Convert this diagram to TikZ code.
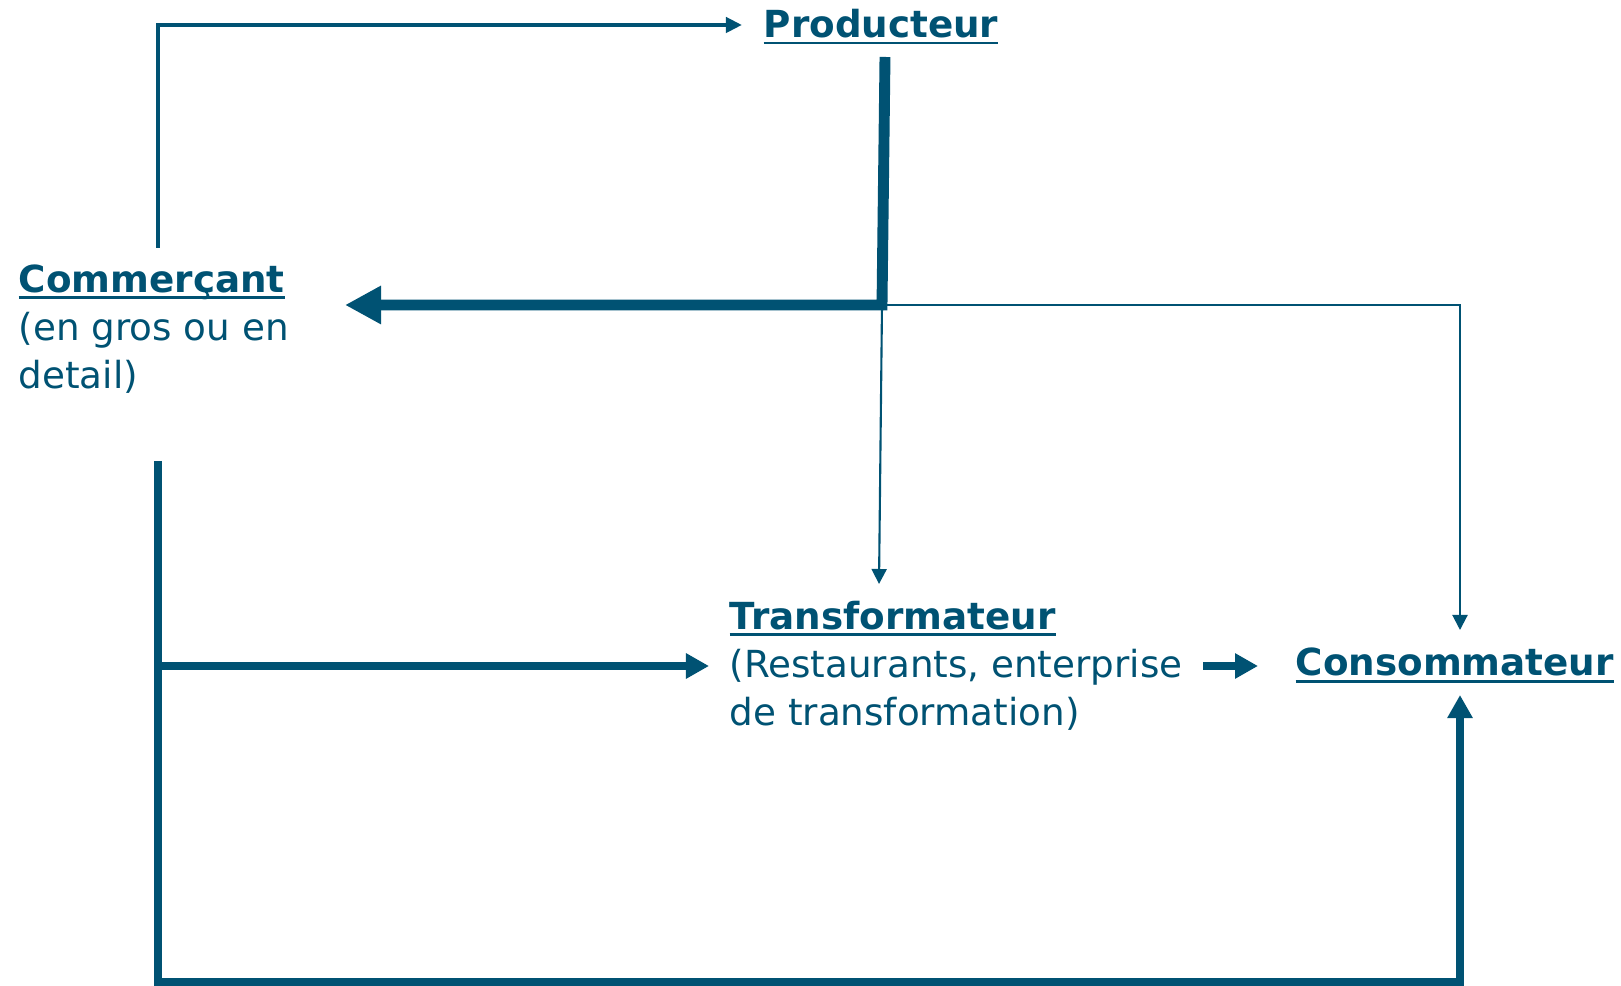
\documentclass[tikz,border=0pt]{standalone}
\usepackage{fontspec}
\setmainfont{DejaVu Sans}
\usepackage{tikz}
\usetikzlibrary{arrows.meta}
\definecolor{flow}{RGB}{0,82,115}
\newcommand{\ulbold}[1]{\setbox0\hbox{\bfseries #1}\rlap{\rule[-1.85pt]{\wd0}{0.85pt}}\box0}

\begin{document}
\begin{tikzpicture}[x=0.01cm,y=-0.01cm,line join=miter]
                \tikzstyle{actor}=[anchor=base west,inner sep=0pt,align=left,text=flow,font=\fontsize{10.6pt}{13.7pt}\selectfont]
                \tikzstyle{fine}=[draw=flow,line width=0.6pt,-{Triangle[length=0.15cm,width=0.15cm]}]
                \tikzstyle{medium}=[draw=flow,line width=1.3pt,-{Triangle[length=0.16cm,width=0.15cm]}]
                \tikzstyle{heavy}=[draw=flow,line width=2.1pt,-{Triangle[length=0.23cm,width=0.24cm]}]
                \tikzstyle{main}=[draw=flow,line width=3.1pt,-{Triangle[length=0.36cm,width=0.36cm]}]
                \useasboundingbox (0,0) rectangle (1621,986);

                % base of a multi-line node is its last line
                \node[actor] (prod) at (763,38) {\ulbold{Producteur}};
                \node[actor] (comm) at (18,389) {\ulbold{Commerçant}\\(en gros ou en\\detail)};
                \node[actor] (trans) at (729,726) {\ulbold{Transformateur}\\(Restaurants, enterprise\\de transformation)};
                \node[actor] (cons) at (1295,676) {\ulbold{Consommateur}};

                \foreach \name/\x/\y in {comm-up/158/248, prod-in/742/25, prod-out/885/57, split/882/305,
                    comm-in/345/305, trans-top/879/584, cons-top/1460/630, comm-down/158/461,
                    fork/158/666, trans-in/709/666, trans-out/1203/666, cons-in/1258/666,
                    corner/158/982, cons-bot/1460/695}
                    \coordinate (\name) at (\x,\y);

                    \draw[medium] (comm-up) |- (prod-in);
                    \draw[main] (prod-out) -- (split) -- (comm-in);
                    \draw[fine] (split) -| (cons-top);
                    \draw[fine] (split) -- (trans-top);
                    \draw[heavy] (comm-down) -- (corner) -| (cons-bot);
                    \draw[heavy] (fork) -- (trans-in);
                    \draw[heavy] (trans-out) -- (cons-in);
            \end{tikzpicture}
\end{document}
